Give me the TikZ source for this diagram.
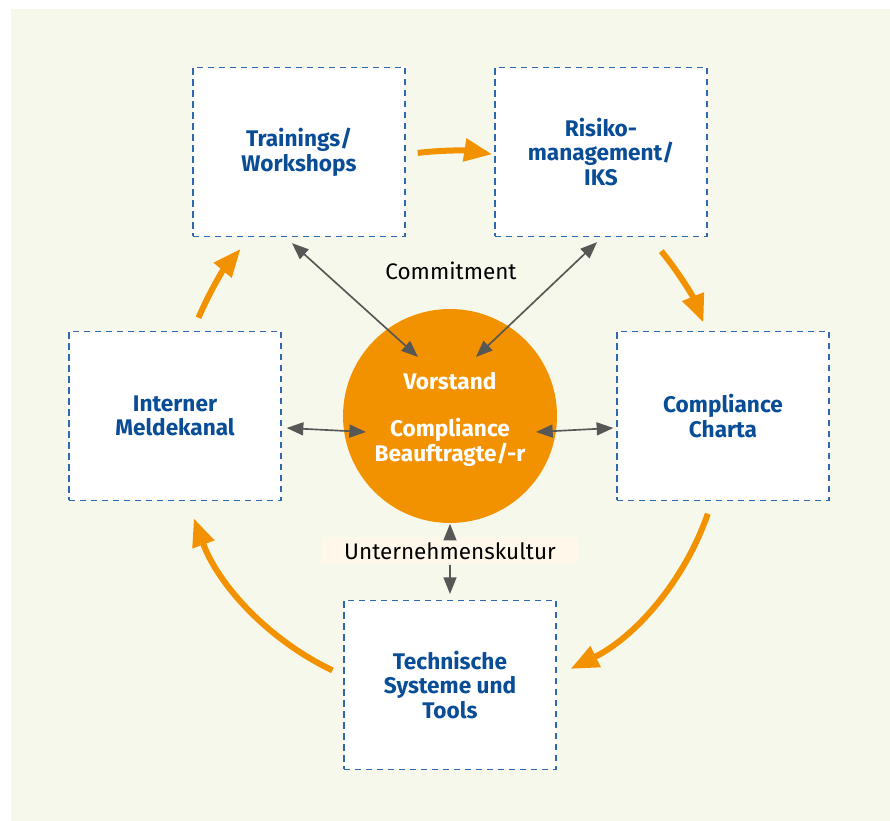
\documentclass[tikz,border=0pt]{standalone}
\usepackage{fontspec}
\setmainfont{Fira Sans}
\usetikzlibrary{arrows.meta}

\definecolor{bgbeige}{HTML}{F7F8EC}
\definecolor{ringorange}{HTML}{F39200}
\definecolor{textblue}{HTML}{0A4D97}
\definecolor{dashblue}{HTML}{2E68AE}
\definecolor{linkgray}{HTML}{575756}
\definecolor{labelcream}{HTML}{FFF8EA}

\tikzset{
    box/.style={draw=dashblue, line width=0.4mm, dash pattern=on 1.9mm off 1.4mm,
        fill=white, minimum width=63.6mm, minimum height=50.7mm,
        align=center, text=textblue, font=\fontsize{19.3}{21}\selectfont\bfseries},
    link/.style={draw=linkgray, line width=0.5mm,
        {Triangle[length=5mm, width=3.9mm]}-{Triangle[length=5mm, width=3.9mm]}},
    cyclearrow/.style={draw=ringorange, line width=1.8mm,
        -{Triangle[length=8.4mm, width=6.6mm]}}
}

\begin{document}
\begin{tikzpicture}[x=0.3mm, y=0.3mm, every node/.style={font=\fontsize{19.2}{21}\selectfont}]
    \useasboundingbox (0,0) rectangle (890,821);
    \fill[bgbeige] (11,0) rectangle (890,812);

    \node[box] (train) at (299,669) {Trainings/\\Workshops};
    \node[box] (risk) at (601,669) {Risiko-\\management/\\IKS};
    \node[box] (charta) at (723,405) {Compliance\\Charta};
    \node[box] (tech) at (450,136) {Technische\\Systeme und\\Tools};
    \node[box] (melde) at (175,405) {Interner\\Meldekanal};

    \node[circle, fill=ringorange, minimum size=64.2mm, inner sep=0pt] (core) at (450,405) {};
    \node[align=center, text=white, font=\fontsize{19.3}{21}\selectfont\bfseries]
        (coretext) at ([yshift=-3]core.center) {Vorstand\\[6.8mm]Compliance\\Beauftragte/-r};

    \node (commit) at (451,550) {Commitment};
    \node[fill=labelcream, minimum width=76.8mm, minimum height=8.1mm, inner sep=0pt]
        (culture) at (450,270) {Unternehmenskultur};

    % links to the centre
    \draw[link] ([shift={(-7,-6)}]train.south) -- ([shift={(-32,59)}]core.center);
    \draw[link] ([shift={(-4,-5)}]risk.south) -- ([shift={(26,59)}]core.center);
    \draw[link] ([shift={(5,-12)}]melde.east) -- ([shift={(-84,-16)}]core.center);
    \draw[link] ([shift={(-3,-12)}]charta.west) -- ([shift={(86,-16)}]core.center);
    \draw[link, {Triangle[length=5mm, width=3.9mm]}-] ([yshift=-92]core.center) -- (culture.north);
    \draw[link, -{Triangle[length=5mm, width=3.9mm]}] (culture.south) -- ([yshift=5]tech.north);

    % the cycle round the boxes
    \coordinate (ring) at (450,397);
    \draw[cyclearrow] ([shift={(96.8:273)}]ring) arc[start angle=96.8, end angle=81.1, radius=273];
    \draw[cyclearrow] ([shift={(39.3:273)}]ring) arc[start angle=39.3, end angle=21.8, radius=273];
    \draw[cyclearrow] ([shift={(-19.2:273)}]ring) arc[start angle=-19.2, end angle=-63.8, radius=273];
    \draw[cyclearrow] ([shift={(-115.5:273)}]ring) arc[start angle=-115.5, end angle=-159.8, radius=273];
    \draw[cyclearrow] ([shift={(157.1:273)}]ring) arc[start angle=157.1, end angle=140.1, radius=273];
\end{tikzpicture}
\end{document}
